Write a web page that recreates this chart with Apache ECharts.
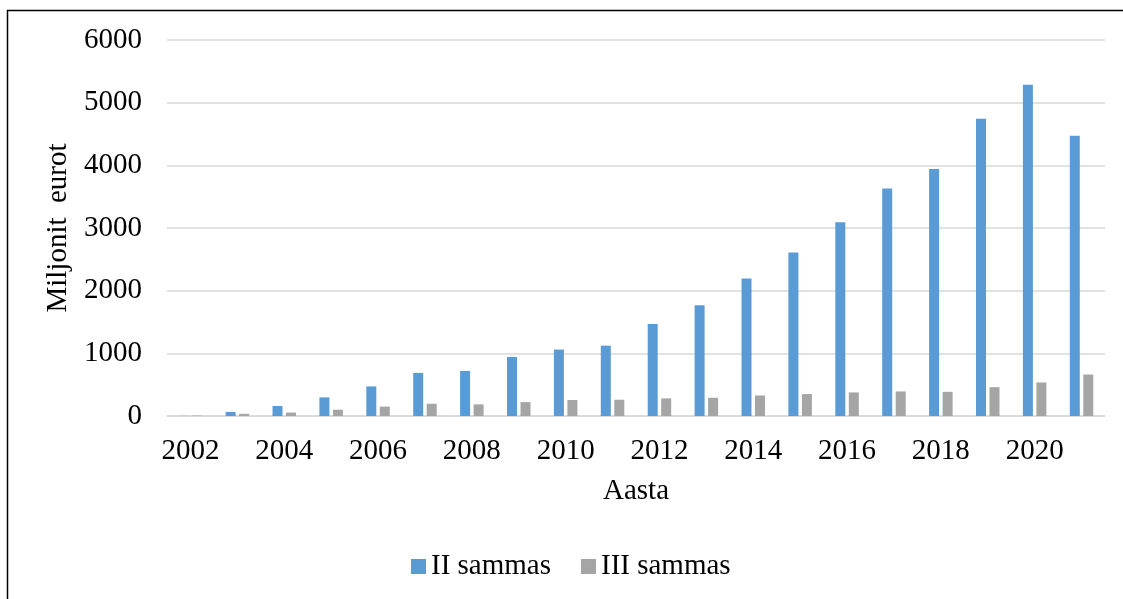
<!DOCTYPE html>
<html>
<head>
<meta charset="utf-8">
<script src="https://cdn.jsdelivr.net/npm/echarts@6/dist/echarts.min.js"></script>
<style>
  html, body { margin: 0; padding: 0; background: #fff; }
  #chart { width: 1123px; height: 599px; }
</style>
</head>
<body>
<div id="chart"></div>
<script>
// Pensionifondide varade maht aastate lõikes (miljonit eurot)
const years = ['2002','2003','2004','2005','2006','2007','2008','2009','2010','2011',
               '2012','2013','2014','2015','2016','2017','2018','2019','2020','2021'];
const pillarII = [2, 65, 160, 297, 472, 688, 720, 943, 1060, 1122,
                  1468, 1766, 2196, 2610, 3091, 3632, 3940, 4745, 5287, 4474];
const pillarIII = [6, 35, 55, 100, 150, 196, 186, 222, 255, 260,
                   281, 291, 328, 350, 376, 392, 386, 460, 535, 662];
const yTicks = { min: 0, max: 6000, interval: 1000 };

const FONT = "'Liberation Serif', 'Times New Roman', serif";
const chart = echarts.init(document.getElementById('chart'), null, { renderer: 'canvas' });

chart.setOption({
  backgroundColor: '#ffffff',
  animation: false,
  textStyle: { fontFamily: FONT, color: '#000' },
  graphic: [{
    type: 'rect',
    shape: { x: 7.5, y: 10.5, width: 1300, height: 1000 },
    style: { fill: 'none', stroke: '#000', lineWidth: 1.5 },
    silent: true
  }],
  grid: { left: 167, right: 18, top: 40, bottom: 183 },
  legend: {
    left: 406,
    top: 547,
    icon: 'rect',
    itemWidth: 15,
    itemHeight: 15,
    itemGap: 30,
    textStyle: { fontFamily: FONT, fontSize: 29, color: '#000' },
    data: ['II sammas', 'III sammas']
  },
  xAxis: {
    type: 'category',
    data: years,
    name: 'Aasta',
    nameLocation: 'middle',
    nameGap: 61,
    nameTextStyle: { fontFamily: FONT, fontSize: 29, color: '#000' },
    axisLine: { show: true, lineStyle: { color: '#d9d9d9', width: 1.5 } },
    axisTick: { show: false },
    axisLabel: { interval: 1, margin: 21, fontFamily: FONT, fontSize: 29, color: '#000' }
  },
  yAxis: {
    type: 'value',
    min: yTicks.min,
    max: yTicks.max,
    interval: yTicks.interval,
    name: 'Miljonit  eurot',
    nameLocation: 'middle',
    nameGap: 85,
    nameTextStyle: { fontFamily: FONT, fontSize: 29, color: '#000' },
    axisLine: { show: false },
    axisTick: { show: false },
    axisLabel: {
      margin: 25, fontFamily: FONT, fontSize: 29, color: '#000',
      formatter: (v) => String(v)
    },
    splitLine: { lineStyle: { color: '#d9d9d9', width: 1.5 } }
  },
  series: [
    {
      name: 'II sammas',
      type: 'bar',
      data: pillarII,
      barWidth: 10,
      barGap: '35%',
      itemStyle: { color: '#5b9bd5' }
    },
    {
      name: 'III sammas',
      type: 'bar',
      data: pillarIII,
      barWidth: 10,
      barGap: '35%',
      itemStyle: { color: '#a5a5a5' }
    }
  ]
});
</script>
</body>
</html>
